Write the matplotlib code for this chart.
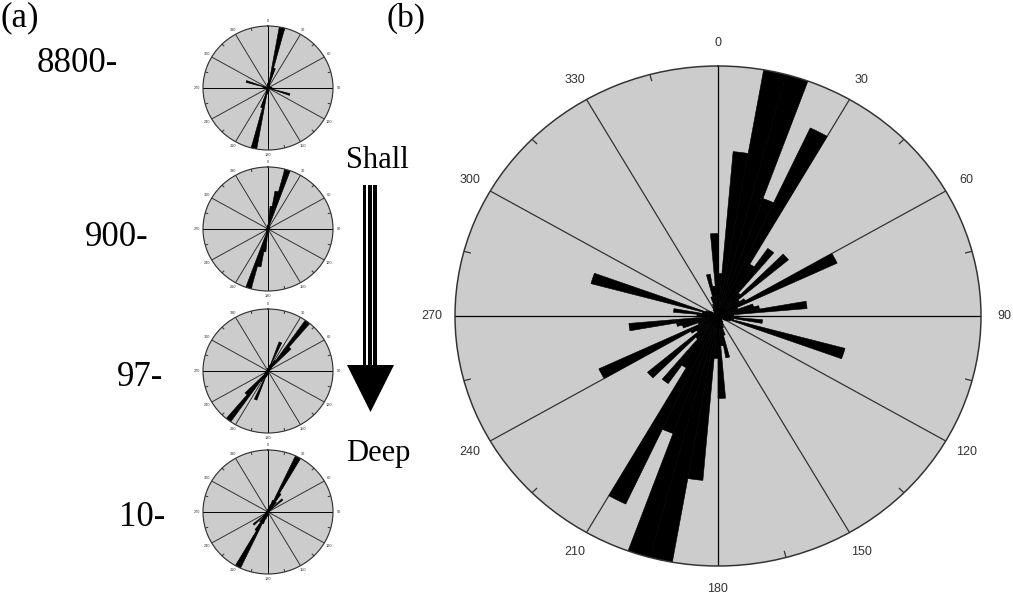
import matplotlib.pyplot as plt
import matplotlib.patches as mpatches
import numpy as np

# rose bins: 5 degree, 0..175 (mirrored to 180..355)
bin_edges = np.arange(0, 180, 5)

big_vals = [0.17, 0.66, 1.00, 1.00, 0.50, 0.83, 0.24, 0.33, 0.12, 0.35, 0.10, 0.12,
            0.50, 0.08, 0.14, 0.16, 0.34, 0.06, 0.08, 0.17, 0.06, 0.50, 0.05, 0.04,
            0.03, 0.02, 0.02, 0.02, 0.03, 0.03, 0.04, 0.05, 0.08, 0.17, 0.12, 0.33]

rose_8800 = [0.05, 0.10, 1.00, 0.33, 0.06, 0.04, 0.03, 0.03, 0.02, 0.02, 0.03, 0.02,
             0.03, 0.03, 0.04, 0.03, 0.05, 0.06, 0.08, 0.06, 0.05, 0.35, 0.04, 0.03,
             0.02, 0.02, 0.02, 0.02, 0.02, 0.02, 0.03, 0.03, 0.04, 0.05, 0.06, 0.08]
rose_900 = [0.08, 0.37, 0.62, 1.00, 0.05, 0.04, 0.03, 0.03, 0.02, 0.02, 0.02, 0.02,
            0.02, 0.02, 0.03, 0.02, 0.02, 0.03, 0.02, 0.02, 0.02, 0.02, 0.02, 0.02,
            0.02, 0.02, 0.02, 0.02, 0.02, 0.02, 0.02, 0.03, 0.03, 0.04, 0.05, 0.06]
rose_97 = [0.05, 0.05, 0.08, 0.10, 0.50, 0.12, 0.20, 1.00, 0.50, 0.08, 0.05, 0.04,
           0.03, 0.03, 0.02, 0.02, 0.02, 0.02, 0.02, 0.02, 0.02, 0.02, 0.02, 0.02,
           0.02, 0.02, 0.02, 0.02, 0.02, 0.02, 0.02, 0.02, 0.03, 0.03, 0.04, 0.04]
rose_10 = [0.05, 0.06, 0.08, 0.12, 0.20, 1.00, 0.35, 0.20, 0.10, 0.30, 0.06, 0.04,
           0.03, 0.03, 0.02, 0.02, 0.02, 0.02, 0.02, 0.02, 0.02, 0.02, 0.02, 0.02,
           0.02, 0.02, 0.02, 0.02, 0.02, 0.02, 0.02, 0.02, 0.03, 0.03, 0.04, 0.04]

small_roses = [rose_8800, rose_900, rose_97, rose_10]
depth_labels = ['8800-', '900-', '97-', '10-']
angle_labels = ['0', '30', '60', '90', '120', '150', '180', '210', '240', '270', '300', '330']

W, H = 1013, 596


def px_axes(cx, cy, rx, ry):
    return [(cx - rx) / W, (H - cy - ry) / H, 2 * rx / W, 2 * ry / H]


def rose(ax, vals, fs, lw_grid, tick_len, label_r):
    ax.set_theta_zero_location('N')
    ax.set_theta_direction(-1)
    ax.set_aspect('auto')
    ax.set_ylim(0, 1)
    ax.set_facecolor('#cccccc')
    ax.grid(False)
    ax.set_xticks([])
    ax.set_yticks([])
    ax.spines['polar'].set_color('#333333')
    ax.spines['polar'].set_linewidth(lw_grid * 1.2)
    for a in range(0, 360, 30):
        col = 'black' if a % 90 == 0 else '#333333'
        ax.plot([np.radians(a)] * 2, [0, 1], color=col, lw=lw_grid, zorder=1)
    for a in range(15, 360, 30):
        ax.plot([np.radians(a)] * 2, [1 - tick_len, 1], color='#333333', lw=lw_grid, zorder=1)
    vals = np.array(vals)
    starts = np.concatenate([bin_edges, bin_edges + 180])
    heights = np.concatenate([vals, vals])
    ax.bar(np.radians(starts), heights, width=np.radians(5), align='edge',
           color='black', edgecolor='black', linewidth=0.4, zorder=2)
    for a, lab in zip(range(0, 360, 30), angle_labels):
        ax.text(np.radians(a), label_r, lab, ha='center', va='center',
                fontsize=fs, color='#333333', family='Liberation Sans', clip_on=False)


fig = plt.figure(figsize=(W / 100, H / 100), dpi=100)

# big rose (b)
axb = fig.add_axes(px_axes(718, 316, 263, 250), projection='polar')
rose(axb, big_vals, 9, 0.9, 0.025, 1.09)

# small roses (a)
small_cy = [88, 229, 371, 512]
for vals, cy in zip(small_roses, small_cy):
    ax = fig.add_axes(px_axes(268, cy, 65, 62), projection='polar')
    rose(ax, vals, 2.8, 0.7, 0.04, 1.085)

# overlay for text and arrow
ov = fig.add_axes([0, 0, 1, 1], zorder=-1)
ov.set_xlim(0, W)
ov.set_ylim(H, 0)
ov.axis('off')

serif = 'Liberation Serif'
ov.text(0, 18, '(a)', fontsize=25, family=serif, ha='left', va='center')
ov.text(387, 18, '(b)', fontsize=24, family=serif, ha='left', va='center')
label_x = [118, 148, 163, 165]
label_y = [64, 237, 377, 518]
for lab, x, y in zip(depth_labels, label_x, label_y):
    ov.text(x, y, lab, fontsize=25, family=serif, ha='right', va='center')

ov.text(377, 160, 'Shall', fontsize=22, family=serif, ha='center', va='center')
ov.text(378, 453, 'Deep', fontsize=22, family=serif, ha='center', va='center')

for x0, x1 in [(362.5, 366), (367.5, 371.5), (373, 376.5)]:
    ov.add_patch(mpatches.Rectangle((x0, 185), x1 - x0, 182, color='black', lw=0))
ov.add_patch(mpatches.Polygon([(347, 365), (394, 365), (370.5, 412)], closed=True,
                              color='black', lw=0))

fig.savefig('out.png', dpi=100)
